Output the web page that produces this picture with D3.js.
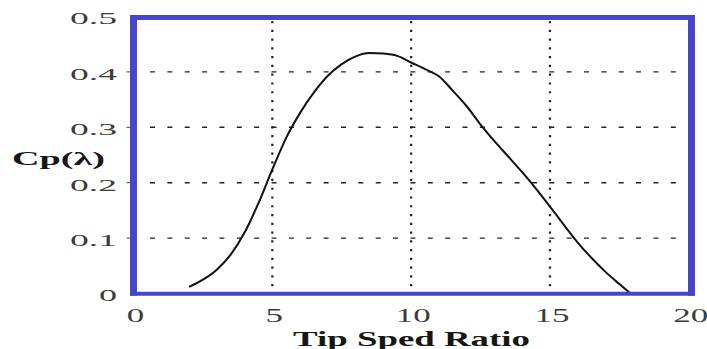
<!DOCTYPE html>
<html>
<head>
<meta charset="utf-8">
<script src="https://cdn.jsdelivr.net/npm/d3@7"></script>
<style>
  html, body { margin: 0; padding: 0; background: #fff; }
  svg { display: block; }
</style>
</head>
<body>
<svg id="chart" width="707" height="349"></svg>
<script>
// Power coefficient curve Cp(λ) versus tip speed ratio λ
const tsr = [2.0, 2.5, 3.0, 3.5, 4.0, 4.5, 5.0, 5.5, 6.0, 6.5, 7.0, 7.5, 8.0, 8.5, 9.0, 9.5,
             10.0, 10.5, 11.0, 11.5, 12.0, 12.5, 13.0, 13.5, 14.0, 14.5, 15.0, 15.5, 16.0, 16.5, 17.0, 17.5, 17.9];
const cp  = [0.012, 0.025, 0.043, 0.070, 0.110, 0.163, 0.224, 0.281, 0.326, 0.363, 0.393, 0.414, 0.428, 0.434, 0.433, 0.429,
             0.417, 0.405, 0.392, 0.366, 0.338, 0.305, 0.275, 0.247, 0.219, 0.189, 0.157, 0.124, 0.092, 0.064, 0.039, 0.017, 0.0];

const xTicks = [0, 5, 10, 15, 20];
const yTicks = [0, 0.1, 0.2, 0.3, 0.4, 0.5];
const xGrid = [5, 10, 15];
const yGrid = [0.1, 0.2, 0.3, 0.4];
const yTickText = ["0", "0.1", "0.2", "0.3", "0.4", "0.5"];
const xTitle = "Tip Sped Ratio";
const yTitle = "Cp(λ)";

const svg = d3.select("#chart");
const x = d3.scaleLinear().domain([0, 20]).range([133.5, 688.8]);
const y = d3.scaleLinear().domain([0, 0.5]).range([293.5, 16.5]);

const frame = "#4646cb";
const ink = "#161616";

// horizontal dashed grid
svg.append("g").selectAll("line").data(yGrid).join("line")
  .attr("x1", 150).attr("x2", 683)
  .attr("y1", d => y(d)).attr("y2", d => y(d))
  .attr("stroke", "#222").attr("stroke-width", 1.4)
  .attr("stroke-dasharray", "5,12.36");

// vertical dotted grid
svg.append("g").selectAll("line").data(xGrid).join("line")
  .attr("x1", d => x(d)).attr("x2", d => x(d))
  .attr("y1", 21).attr("y2", 288)
  .attr("stroke", "#222").attr("stroke-width", 2.2)
  .attr("stroke-dasharray", "2.2,6.57");

// small ticks on the left of the value axis
svg.append("g").selectAll("line").data(yGrid).join("line")
  .attr("x1", x(0) - 7).attr("x2", x(0) - 3)
  .attr("y1", d => y(d)).attr("y2", d => y(d))
  .attr("stroke", "#444").attr("stroke-width", 1);

// the curve
const line = d3.line().x(d => x(d[0])).y(d => y(d[1])).curve(d3.curveMonotoneX);
svg.append("path")
  .datum(tsr.map((t, i) => [t, cp[i]]))
  .attr("d", line)
  .attr("fill", "none")
  .attr("stroke", "#111")
  .attr("stroke-width", 2)
  .attr("stroke-linejoin", "round");

// frame: thick blue border around the plotting area
const fr = svg.append("g").attr("stroke", frame).attr("fill", "none");
fr.append("line").attr("x1", x(0)).attr("x2", x(0)).attr("y1", y(0.5) - 1.5).attr("y2", y(0) + 2.2).attr("stroke-width", 7);
fr.append("line").attr("x1", x(20) + 2.7).attr("x2", x(20) + 2.7).attr("y1", y(0.5) - 1.5).attr("y2", y(0) + 2.2).attr("stroke-width", 7);
fr.append("line").attr("x1", x(0) - 3.5).attr("x2", x(20) + 6).attr("y1", y(0.5) + 1).attr("y2", y(0.5) + 1).attr("stroke-width", 5);
fr.append("line").attr("x1", x(0) - 3.5).attr("x2", x(20) + 6).attr("y1", y(0) + 0.2).attr("y2", y(0) + 0.2).attr("stroke-width", 4);

// stretched text helper
function wideText(txt, left, baseline, width, size, weight, color) {
  svg.append("text")
    .attr("x", left).attr("y", baseline)
    .attr("textLength", width)
    .attr("lengthAdjust", "spacingAndGlyphs")
    .attr("font-family", "'Liberation Serif', 'DejaVu Serif', serif")
    .attr("font-size", size)
    .attr("font-weight", weight)
    .attr("fill", color)
    .text(txt);
}

// value axis labels
yTicks.forEach((v, i) => {
  const t = yTickText[i];
  const w = t.length === 1 ? 18 : 47;
  wideText(t, 117 - w, y(v) + 7.8, w, 16.5, "normal", "#3c3c3c");
});

// tip speed ratio labels
xTicks.forEach(v => {
  const t = String(v);
  const w = t.length === 1 ? 17.5 : 35;
  wideText(t, x(v) + 2 - w / 2, 322, w, 19, "normal", "#3c3c3c");
});

// axis titles
wideText(xTitle, 293, 345.5, 237, 21, "bold", ink);
wideText(yTitle, 12, 165, 93, 18, "bold", ink);
</script>
</body>
</html>
